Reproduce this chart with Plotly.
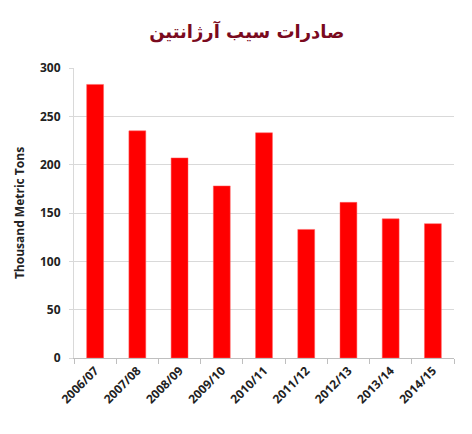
import plotly.graph_objects as go

seasons = ["2006/07", "2007/08", "2008/09", "2009/10", "2010/11",
           "2011/12", "2012/13", "2013/14", "2014/15"]
exports = [283, 235, 207, 178, 233, 133, 161, 144, 139]
y_ticks = [0, 50, 100, 150, 200, 250, 300]

title_text = "صادرات سیب آرژانتین"
y_title = "Thousand Metric Tons"

fig = go.Figure(go.Bar(
    x=seasons, y=exports,
    marker=dict(color="#FF0000", line=dict(color="#FF6060", width=0.5)),
    width=0.4,
))

fig.update_layout(
    width=472, height=434,
    margin=dict(l=59, r=26, t=60, b=84),
    paper_bgcolor="white", plot_bgcolor="white",
    showlegend=False,
    title=dict(text="<b>" + title_text + "</b>", x=0.506, xanchor="center",
               y=0.945, yanchor="middle",
               font=dict(family="DejaVu Sans", size=18, color="#7A0A1E")),
    font=dict(family="Open Sans", color="#222222"),
)

fig.update_xaxes(
    type="category", tickangle=-45, tickson="boundaries",
    ticks="outside", ticklen=5, tickcolor="#BFBFBF",
    showline=True, linecolor="#BFBFBF", linewidth=1,
    tickfont=dict(family="Open Sans", size=12, weight="bold", color="#222222"),
    showgrid=False,
)
fig.update_yaxes(
    range=[0, 300], tickvals=y_ticks,
    ticks="outside", ticklen=4, tickcolor="#D9D9D9",
    showline=True, linecolor="#D9D9D9", linewidth=1,
    gridcolor="#D9D9D9", gridwidth=1,
    ticklabelstandoff=6,
    tickfont=dict(family="Open Sans", size=12, weight="bold", color="#222222"),
    title=dict(text=y_title, standoff=12,
               font=dict(family="Open Sans", size=12, weight="bold", color="#222222")),
    zeroline=False,
)

fig.write_html("out.html")
